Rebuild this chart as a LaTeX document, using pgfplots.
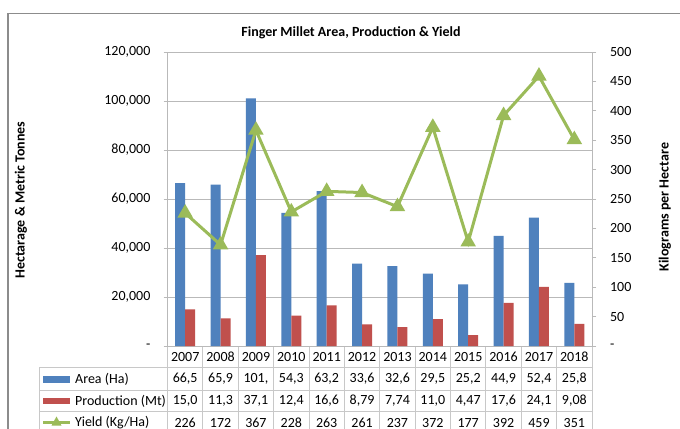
\documentclass[border=0pt]{standalone}
\usepackage{fontspec}
\setmainfont{Carlito}
\usepackage{pgfplots}
\usepackage{pgfplotstable}
\pgfplotsset{compat=1.18}

\definecolor{areablue}{HTML}{4F81BD}
\definecolor{prodred}{HTML}{C0504D}
\definecolor{yieldgreen}{HTML}{9BBB59}
\definecolor{gridgray}{HTML}{B9B9B9}
\definecolor{tablegray}{HTML}{C8C8C8}
\definecolor{framegray}{HTML}{8C8C8C}

% Finger millet: area (ha), production (t), yield (kg/ha)
\pgfplotstableread{
idx year area   prod  yield
0   2007 66500  15000 226
1   2008 65900  11300 172
2   2009 101100 37100 367
3   2010 54300  12400 228
4   2011 63200  16600 263
5   2012 33600  8790  261
6   2013 32600  7740  237
7   2014 29500  11000 372
8   2015 25200  4470  177
9   2016 44900  17600 392
10  2017 52400  24100 459
11  2018 25800  9080  351
}\millet

\newcommand{\lbl}{\fontsize{10.5}{12.5}\selectfont}

\begin{document}
\begin{tikzpicture}
\path[use as bounding box] (0,0) rectangle (510pt,-321pt);
\clip (0,0) rectangle (510pt,-321pt);
\fill[white] (0,0) rectangle (510pt,-321pt);

\begin{scope}[x=0.75pt,y=-0.75pt]
  % chart frame
  \draw[framegray, line width=1.1pt] (8,450) -- (8,13.7) -- (700,13.7);
  % title and axis titles
  \node[font=\lbl\bfseries] at (351,33) {Finger Millet Area, Production \& Yield};
  \node[font=\lbl\bfseries, rotate=90] at (21,200) {Hectarage \& Metric Tonnes};
  \node[font=\lbl\bfseries, rotate=90] at (665,207) {Kilograms per Hectare};

  % data table grid
  \draw[tablegray, line width=0.75pt] (39,367.7) -- (592,367.7);
  \draw[tablegray, line width=0.75pt] (39,390) -- (592,390);
  \draw[tablegray, line width=0.75pt] (39,411.7) -- (592,411.7);
  \draw[tablegray, line width=0.75pt] (39,434) -- (592,434);
  \draw[tablegray, line width=0.75pt] (39,367.7) -- (39,440);
  \foreach \k in {0,...,12}{
    \draw[tablegray, line width=0.75pt] ({167.5+35.375*\k},346) -- ({167.5+35.375*\k},440);
  }
  % column headers and cell values
  \foreach \t [count=\i from 0] in {2007,2008,2009,2010,2011,2012,2013,2014,2015,2016,2017,2018}{
    \node[font=\lbl] at ({167.5+35.375*(\i+0.5)},357) {\t};
  }
  \foreach \t [count=\i from 0] in {{66,5},{65,9},{101,},{54,3},{63,2},{33,6},{32,6},{29,5},{25,2},{44,9},{52,4},{25,8}}{
    \node[font=\lbl] at ({167.5+35.375*(\i+0.5)},379) {\t};
  }
  \foreach \t [count=\i from 0] in {{15,0},{11,3},{37,1},{12,4},{16,6},{8,79},{7,74},{11,0},{4,47},{17,6},{24,1},{9,08}}{
    \node[font=\lbl] at ({167.5+35.375*(\i+0.5)},401) {\t};
  }
  \foreach \t [count=\i from 0] in {226,172,367,228,263,261,237,372,177,392,459,351}{
    \node[font=\lbl] at ({167.5+35.375*(\i+0.5)},422.5) {\t};
  }
  % row headers with series keys
  \fill[areablue] (43,376.3) rectangle (70,382.5);
  \node[font=\lbl, anchor=west] at (70.5,379) {Area (Ha)};
  \fill[prodred] (43,398) rectangle (70,404.2);
  \node[font=\lbl, anchor=west] at (70.5,401) {Production (Mt)};
  \draw[yieldgreen, line width=2.25pt] (43,422.5) -- (70,422.5);
  \fill[yieldgreen] (56.5,416.5) -- (61.5,425.5) -- (51.5,425.5) -- cycle;
  \node[font=\lbl, anchor=west] at (70.5,422.5) {Yield (Kg/Ha)};
\end{scope}

% bars: area and production, left axis
\begin{axis}[
  at={(125.625pt,-259.5pt)}, anchor=south west,
  width=318.375pt, height=220.5pt, scale only axis,
  xmin=-0.5, xmax=11.5, ymin=0, ymax=120000,
  xtick=\empty,
  ytick={0,20000,40000,60000,80000,100000,120000},
  yticklabels={-,{20,000},{40,000},{60,000},{80,000},{100,000},{120,000}},
  scaled y ticks=false,
  ymajorgrids, grid style={gridgray, line width=0.75pt},
  axis x line*=bottom, axis y line*=left,
  axis line style={gridgray, line width=0.75pt, -},
  tick style={gridgray, line width=0.75pt},
  tick align=outside, major tick length=3pt,
  yticklabel style={font=\lbl, text=black, xshift=-6.3pt},
  ybar=0pt, bar width=7.5pt,
  clip=false,
]
\addplot[fill=areablue, draw=none] table[x=idx, y=area]{\millet};
\addplot[fill=prodred, draw=none] table[x=idx, y=prod]{\millet};
\end{axis}

% yield line, right axis
\begin{axis}[
  at={(125.625pt,-259.5pt)}, anchor=south west,
  width=318.375pt, height=220.5pt, scale only axis,
  xmin=-0.5, xmax=11.5, ymin=0, ymax=500,
  axis x line=none, axis y line*=right,
  axis line style={gridgray, line width=0.75pt, -},
  tick style={gridgray, line width=0.75pt},
  tick align=outside, major tick length=3pt,
  ytick={0,50,100,150,200,250,300,350,400,450,500},
  yticklabels={-,50,100,150,200,250,300,350,400,450,500},
  yticklabel style={font=\lbl, text=black, anchor=west, xshift=7pt},
  clip=false,
]
\addplot[yieldgreen, line width=2.25pt, mark=triangle*, mark size=4.5pt, mark options={solid}]
  table[x=idx, y=yield]{\millet};
\end{axis}
\end{tikzpicture}
\end{document}
